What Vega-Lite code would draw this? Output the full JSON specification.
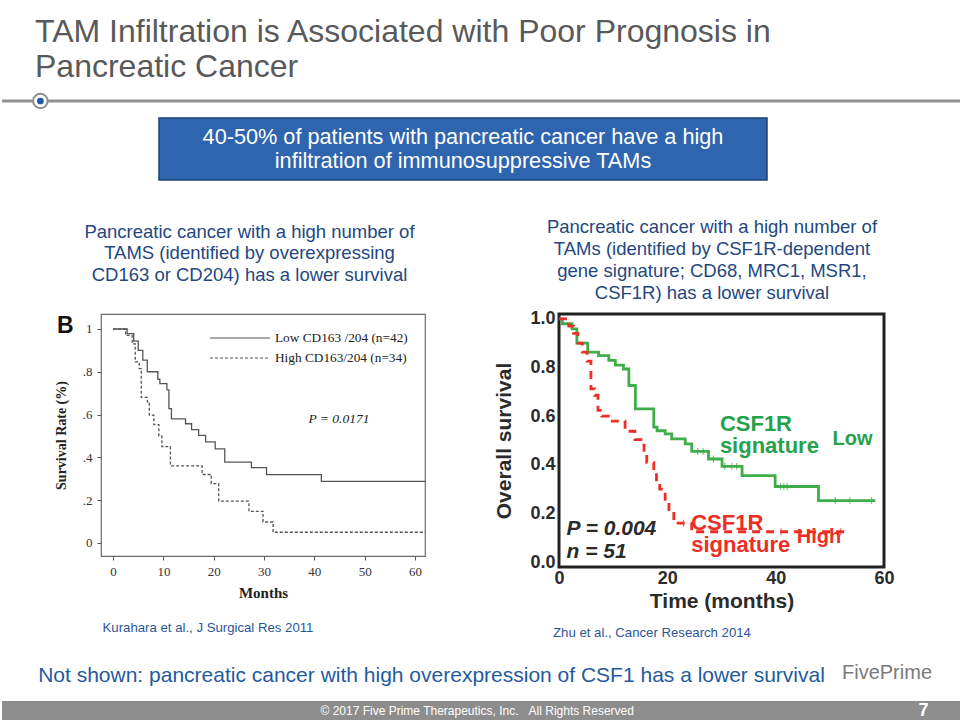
{
  "$schema": "https://vega.github.io/schema/vega-lite/v6.json",
  "background": "white",
  "padding": {"left": 0, "right": 0, "top": 15, "bottom": 0},
  "title": {
    "text": ["TAM Infiltration is Associated with Poor Prognosis in", "Pancreatic Cancer"],
    "anchor": "start", "frame": "group", "dx": 33, "offset": 6,
    "font": "Liberation Sans", "fontSize": 32, "fontWeight": "normal", "color": "#595959", "lineHeight": 35
  },
  "config": {"view": {"stroke": null}, "font": "Liberation Sans", "axis": {"grid": false}},
  "spacing": 0,
  "resolve": {"scale": {"color": "independent", "strokeDash": "independent"}},
  "datasets": {
    "kurahara": [
      {"group": "Low CD163 /204 (n=42)", "month": 0, "surv": 1.0},
      {"group": "Low CD163 /204 (n=42)", "month": 2.8, "surv": 0.978},
      {"group": "Low CD163 /204 (n=42)", "month": 4.1, "surv": 0.943},
      {"group": "Low CD163 /204 (n=42)", "month": 5.0, "surv": 0.90},
      {"group": "Low CD163 /204 (n=42)", "month": 5.9, "surv": 0.854},
      {"group": "Low CD163 /204 (n=42)", "month": 6.8, "surv": 0.80},
      {"group": "Low CD163 /204 (n=42)", "month": 8.9, "surv": 0.765},
      {"group": "Low CD163 /204 (n=42)", "month": 9.3, "surv": 0.745},
      {"group": "Low CD163 /204 (n=42)", "month": 10.7, "surv": 0.715},
      {"group": "Low CD163 /204 (n=42)", "month": 11.1, "surv": 0.628},
      {"group": "Low CD163 /204 (n=42)", "month": 11.6, "surv": 0.58},
      {"group": "Low CD163 /204 (n=42)", "month": 14.4, "surv": 0.557},
      {"group": "Low CD163 /204 (n=42)", "month": 15.6, "surv": 0.53},
      {"group": "Low CD163 /204 (n=42)", "month": 17.0, "surv": 0.503},
      {"group": "Low CD163 /204 (n=42)", "month": 18.4, "surv": 0.472},
      {"group": "Low CD163 /204 (n=42)", "month": 20.3, "surv": 0.44},
      {"group": "Low CD163 /204 (n=42)", "month": 22.2, "surv": 0.378},
      {"group": "Low CD163 /204 (n=42)", "month": 27.5, "surv": 0.352},
      {"group": "Low CD163 /204 (n=42)", "month": 30.5, "surv": 0.319},
      {"group": "Low CD163 /204 (n=42)", "month": 41.4, "surv": 0.288},
      {"group": "Low CD163 /204 (n=42)", "month": 62, "surv": 0.288},
      {"group": "High CD163/204 (n=34)", "month": 0, "surv": 1.0},
      {"group": "High CD163/204 (n=34)", "month": 2.5, "surv": 0.97},
      {"group": "High CD163/204 (n=34)", "month": 3.8, "surv": 0.93},
      {"group": "High CD163/204 (n=34)", "month": 4.4, "surv": 0.846},
      {"group": "High CD163/204 (n=34)", "month": 5.2, "surv": 0.815},
      {"group": "High CD163/204 (n=34)", "month": 5.6, "surv": 0.68},
      {"group": "High CD163/204 (n=34)", "month": 6.8, "surv": 0.66},
      {"group": "High CD163/204 (n=34)", "month": 7.2, "surv": 0.597},
      {"group": "High CD163/204 (n=34)", "month": 8.1, "surv": 0.553},
      {"group": "High CD163/204 (n=34)", "month": 9.1, "surv": 0.50},
      {"group": "High CD163/204 (n=34)", "month": 9.7, "surv": 0.45},
      {"group": "High CD163/204 (n=34)", "month": 11.4, "surv": 0.36},
      {"group": "High CD163/204 (n=34)", "month": 17.7, "surv": 0.32},
      {"group": "High CD163/204 (n=34)", "month": 19.5, "surv": 0.277},
      {"group": "High CD163/204 (n=34)", "month": 21.0, "surv": 0.195},
      {"group": "High CD163/204 (n=34)", "month": 27.0, "surv": 0.148},
      {"group": "High CD163/204 (n=34)", "month": 29.8, "surv": 0.098},
      {"group": "High CD163/204 (n=34)", "month": 31.8, "surv": 0.05},
      {"group": "High CD163/204 (n=34)", "month": 62, "surv": 0.05}
    ],
    "zhu": [
      {"group": "Low", "month": 0, "surv": 1.0},
      {"group": "Low", "month": 0.6, "surv": 0.98},
      {"group": "Low", "month": 2.4, "surv": 0.959},
      {"group": "Low", "month": 3.3, "surv": 0.90},
      {"group": "Low", "month": 5.3, "surv": 0.863},
      {"group": "Low", "month": 7.3, "surv": 0.849},
      {"group": "Low", "month": 9.2, "surv": 0.829},
      {"group": "Low", "month": 10.4, "surv": 0.81},
      {"group": "Low", "month": 11.9, "surv": 0.794},
      {"group": "Low", "month": 12.9, "surv": 0.726},
      {"group": "Low", "month": 14.1, "surv": 0.63},
      {"group": "Low", "month": 17.5, "surv": 0.555},
      {"group": "Low", "month": 18.1, "surv": 0.54},
      {"group": "Low", "month": 19.6, "surv": 0.527},
      {"group": "Low", "month": 20.8, "surv": 0.507},
      {"group": "Low", "month": 23.3, "surv": 0.486},
      {"group": "Low", "month": 24.5, "surv": 0.455},
      {"group": "Low", "month": 27.6, "surv": 0.424},
      {"group": "Low", "month": 30.1, "surv": 0.394},
      {"group": "Low", "month": 33.8, "surv": 0.356},
      {"group": "Low", "month": 39.9, "surv": 0.311},
      {"group": "Low", "month": 47.9, "surv": 0.253},
      {"group": "Low", "month": 58.4, "surv": 0.253},
      {"group": "High", "month": 0, "surv": 1.0},
      {"group": "High", "month": 1.8, "surv": 0.97},
      {"group": "High", "month": 2.7, "surv": 0.94},
      {"group": "High", "month": 3.5, "surv": 0.90},
      {"group": "High", "month": 4.3, "surv": 0.863},
      {"group": "High", "month": 5.2, "surv": 0.826},
      {"group": "High", "month": 5.9, "surv": 0.712},
      {"group": "High", "month": 6.6, "surv": 0.686},
      {"group": "High", "month": 7.2, "surv": 0.624},
      {"group": "High", "month": 7.9, "surv": 0.60},
      {"group": "High", "month": 9.4, "surv": 0.58},
      {"group": "High", "month": 12.2, "surv": 0.538},
      {"group": "High", "month": 14.0, "surv": 0.504},
      {"group": "High", "month": 15.7, "surv": 0.45},
      {"group": "High", "month": 16.2, "surv": 0.41},
      {"group": "High", "month": 17.5, "surv": 0.37},
      {"group": "High", "month": 18.0, "surv": 0.33},
      {"group": "High", "month": 18.6, "surv": 0.30},
      {"group": "High", "month": 19.6, "surv": 0.25},
      {"group": "High", "month": 20.3, "surv": 0.21},
      {"group": "High", "month": 21.2, "surv": 0.16},
      {"group": "High", "month": 24.5, "surv": 0.125},
      {"group": "High", "month": 53.5, "surv": 0.125}
    ],
    "censor": [
      {"group": "Low", "month": 25.6, "surv": 0.455},
      {"group": "Low", "month": 26.6, "surv": 0.455},
      {"group": "Low", "month": 28.5, "surv": 0.424},
      {"group": "Low", "month": 30.6, "surv": 0.394},
      {"group": "Low", "month": 31.9, "surv": 0.394},
      {"group": "Low", "month": 32.8, "surv": 0.394},
      {"group": "Low", "month": 40.9, "surv": 0.311},
      {"group": "Low", "month": 41.5, "surv": 0.311},
      {"group": "Low", "month": 42.1, "surv": 0.311},
      {"group": "Low", "month": 51.0, "surv": 0.253},
      {"group": "Low", "month": 53.7, "surv": 0.253},
      {"group": "Low", "month": 57.7, "surv": 0.253},
      {"group": "High", "month": 23.0, "surv": 0.16},
      {"group": "High", "month": 41.0, "surv": 0.125},
      {"group": "High", "month": 52.0, "surv": 0.125}
    ]
  },
  "vconcat": [
    {
      "width": 960, "height": 16,
      "data": {"values": [{"item": "header"}]},
      "layer": [
        {"mark": {"type": "rule", "color": "#8f8f8f", "strokeWidth": 3},
         "encoding": {"y": {"datum": 0.5, "type": "quantitative", "scale": {"domain": [0, 1]}, "axis": null}}},
        {"mark": {"type": "point", "filled": true, "fill": "white", "stroke": "#8f8f8f", "strokeWidth": 2, "size": 210, "opacity": 1},
         "encoding": {"x": {"datum": 0.04, "type": "quantitative", "scale": {"domain": [0, 1]}, "axis": null},
                      "y": {"datum": 0.5, "type": "quantitative"}}},
        {"mark": {"type": "point", "filled": true, "color": "#1f5aa6", "size": 45, "opacity": 1},
         "encoding": {"x": {"datum": 0.04, "type": "quantitative"}, "y": {"datum": 0.5, "type": "quantitative"}}}
      ]
    },
    {"width": 960, "height": 4, "data": {"values": []}, "mark": "point"},
    {
      "hconcat": [
        {"width": 157, "height": 62, "data": {"values": []}, "mark": "point"},
        {
          "width": 608, "height": 62,
          "view": {"fill": "#2f64ae", "stroke": "#1e3f70", "strokeWidth": 1.5},
          "data": {"values": [{"t": "40-50% of patients with pancreatic cancer have a high\ninfiltration of immunosuppressive TAMs"}]},
          "mark": {"type": "text", "color": "white", "fontSize": 21.7, "lineHeight": 24, "lineBreak": "\n", "dy": -12},
          "encoding": {"text": {"field": "t", "type": "nominal"}}
        }
      ],
      "spacing": 0, "bounds": "flush"
    },
    {"width": 960, "height": 31, "data": {"values": []}, "mark": "point"},
    {
      "hconcat": [
        {
          "width": 495, "height": 83,
          "data": {"values": [{"t": "Pancreatic cancer with a high number of\nTAMS (identified by overexpressing\nCD163 or CD204) has a lower survival"}]},
          "mark": {"type": "text", "color": "#24477f", "fontSize": 18.5, "lineHeight": 21.7, "lineBreak": "\n", "dy": -21.7},
          "encoding": {"text": {"field": "t", "type": "nominal"}}
        },
        {
          "width": 430, "height": 96,
          "data": {"values": [{"t": "Pancreatic cancer with a high number of\nTAMs (identified by CSF1R-dependent\ngene signature; CD68, MRC1, MSR1,\nCSF1R) has a lower survival"}]},
          "mark": {"type": "text", "color": "#24477f", "fontSize": 18.5, "lineHeight": 22, "lineBreak": "\n", "dy": -33},
          "encoding": {"text": {"field": "t", "type": "nominal"}}
        }
      ],
      "spacing": 0, "bounds": "flush"
    },
    {
      "hconcat": [
        {"width": 99, "height": 1, "data": {"values": []}, "mark": "point"},
        {
          "width": 324, "height": 242,
          "view": {"stroke": "#6b6b6b", "strokeWidth": 1.2},
          "layer": [
            {
              "data": {"name": "kurahara"},
              "mark": {"type": "line", "interpolate": "step-after", "strokeWidth": 1.3, "color": "#555555"},
              "encoding": {
                "x": {"field": "month", "type": "quantitative",
                      "scale": {"domain": [-2.4, 62], "nice": false, "zero": false},
                      "axis": {"title": "Months",
                               "values": [0, 2.5, 5, 7.5, 10, 12.5, 15, 17.5, 20, 22.5, 25, 27.5, 30, 32.5, 35, 37.5, 40, 42.5, 45, 47.5, 50, 52.5, 55, 57.5, 60],
                               "labelExpr": "datum.value % 10 === 0 ? datum.label : ''",
                               "domain": false, "tickSize": 4, "tickColor": "#555555",
                               "labelFont": "Liberation Serif", "labelFontSize": 13, "labelColor": "#333333", "labelPadding": 5.5,
                               "titleFont": "Liberation Serif", "titleFontWeight": "bold", "titleFontSize": 15, "titleColor": "#222222", "titlePadding": 7}},
                "y": {"field": "surv", "type": "quantitative",
                      "scale": {"domain": [-0.061, 1.07], "nice": false, "zero": false},
                      "axis": {"title": "Survival Rate (%)",
                               "values": [0, 0.1, 0.2, 0.3, 0.4, 0.5, 0.6, 0.7, 0.8, 0.9, 1],
                               "labelExpr": "datum.value === 1 ? '1' : datum.value === 0 ? '0' : (round(datum.value * 10) % 2 === 0 ? replace(format(datum.value, '.1f'), '0.', '.') : '')",
                               "domain": false, "tickSize": 4, "tickColor": "#555555",
                               "labelFont": "Liberation Serif", "labelFontSize": 13, "labelColor": "#333333", "labelPadding": 5,
                               "titleFont": "Liberation Serif", "titleFontWeight": "bold", "titleFontSize": 14, "titleColor": "#222222", "titlePadding": 14}},
                "strokeDash": {"field": "group", "type": "nominal",
                               "scale": {"domain": ["Low CD163 /204 (n=42)", "High CD163/204 (n=34)"], "range": [[1, 0], [3, 2]]},
                               "legend": {"title": null, "orient": "top-right", "offset": 13, "padding": 4,
                                          "symbolType": "stroke", "symbolSize": 3600, "symbolStrokeWidth": 1.2, "symbolStrokeColor": "#555555",
                                          "clipHeight": 14, "rowPadding": 6,
                                          "labelFont": "Liberation Serif", "labelFontSize": 13.3, "labelColor": "#222222", "labelOffset": 4, "labelLimit": 300}}
              }
            },
            {
              "data": {"values": [{"t": "P = 0.0171"}]},
              "mark": {"type": "text", "font": "Liberation Serif", "fontStyle": "italic", "fontSize": 13.5, "color": "#222222"},
              "encoding": {"x": {"datum": 44.9}, "y": {"datum": 0.58}, "text": {"field": "t", "type": "nominal"}}
            },
            {
              "data": {"values": [{"t": "B"}]},
              "mark": {"type": "text", "font": "Liberation Sans", "fontWeight": "bold", "fontSize": 23, "color": "#111111"},
              "encoding": {"x": {"datum": -9.5}, "y": {"datum": 1.014}, "text": {"field": "t", "type": "nominal"}}
            }
          ]
        },
        {"width": 134, "height": 1, "data": {"values": []}, "mark": "point"},
        {
          "width": 325, "height": 253,
          "view": {"stroke": "#222222", "strokeWidth": 3},
          "layer": [
            {
              "data": {"name": "zhu"},
              "mark": {"type": "line", "interpolate": "step-after", "strokeWidth": 2.8},
              "encoding": {
                "x": {"field": "month", "type": "quantitative",
                      "scale": {"domain": [0, 60], "nice": false, "zero": false},
                      "axis": {"title": "Time (months)", "values": [0, 20, 40, 60], "domain": false, "ticks": false,
                               "labelFont": "Liberation Sans", "labelFontSize": 18, "labelFontWeight": "bold", "labelColor": "#2b2b2b",
                               "labelPadding": 2, "labelFlush": false,
                               "titleFont": "Liberation Sans", "titleFontSize": 21, "titleFontWeight": "bold", "titleColor": "#2b2b2b", "titlePadding": 3}},
                "y": {"field": "surv", "type": "quantitative",
                      "scale": {"domain": [-0.02, 1.02], "nice": false, "zero": false},
                      "axis": {"title": "Overall survival", "values": [0, 0.2, 0.4, 0.6, 0.8, 1], "format": ".1f", "domain": false, "ticks": false,
                               "labelFont": "Liberation Sans", "labelFontSize": 18, "labelFontWeight": "bold", "labelColor": "#2b2b2b",
                               "labelPadding": 4, "labelFlush": false,
                               "titleFont": "Liberation Sans", "titleFontSize": 21, "titleFontWeight": "bold", "titleColor": "#2b2b2b", "titlePadding": 15}},
                "color": {"field": "group", "type": "nominal", "scale": {"domain": ["Low", "High"], "range": ["#3fae49", "#ec2f24"]}, "legend": null},
                "strokeDash": {"field": "group", "type": "nominal", "scale": {"domain": ["Low", "High"], "range": [[1, 0], [8, 6]]}, "legend": null}
              }
            },
            {
              "data": {"name": "censor"},
              "mark": {"type": "tick", "orient": "vertical", "size": 7, "thickness": 1.2},
              "encoding": {
                "x": {"field": "month", "type": "quantitative"},
                "y": {"field": "surv", "type": "quantitative"},
                "color": {"field": "group", "type": "nominal", "legend": null}
              }
            },
            {
              "data": {"values": [{"t": "CSF1R\nsignature"}]},
              "mark": {"type": "text", "align": "left", "fontWeight": "bold", "fontSize": 22, "lineHeight": 22, "lineBreak": "\n", "color": "#27a24a"},
              "encoding": {"x": {"datum": 29.7}, "y": {"datum": 0.567}, "text": {"field": "t", "type": "nominal"}}
            },
            {
              "data": {"values": [{"t": "Low"}]},
              "mark": {"type": "text", "align": "left", "fontWeight": "bold", "fontSize": 20, "color": "#27a24a"},
              "encoding": {"x": {"datum": 50.5}, "y": {"datum": 0.505}, "text": {"field": "t", "type": "nominal"}}
            },
            {
              "data": {"values": [{"t": "CSF1R\nsignature"}]},
              "mark": {"type": "text", "align": "left", "fontWeight": "bold", "fontSize": 22, "lineHeight": 22, "lineBreak": "\n", "color": "#ec2f24"},
              "encoding": {"x": {"datum": 24.4}, "y": {"datum": 0.16}, "text": {"field": "t", "type": "nominal"}}
            },
            {
              "data": {"values": [{"t": "High"}]},
              "mark": {"type": "text", "align": "left", "fontWeight": "bold", "fontSize": 20, "color": "#ec2f24"},
              "encoding": {"x": {"datum": 43.9}, "y": {"datum": 0.103}, "text": {"field": "t", "type": "nominal"}}
            },
            {
              "data": {"values": [{"t": "P = 0.004\nn = 51"}]},
              "mark": {"type": "text", "align": "left", "fontWeight": "bold", "fontStyle": "italic", "fontSize": 21, "lineHeight": 23, "lineBreak": "\n", "color": "#2b2b2b"},
              "encoding": {"x": {"datum": 1.4}, "y": {"datum": 0.136}, "text": {"field": "t", "type": "nominal"}}
            }
          ]
        }
      ],
      "spacing": 0, "bounds": "flush",
      "resolve": {"scale": {"color": "independent", "strokeDash": "independent"}}
    },
    {"width": 960, "height": 2, "data": {"values": []}, "mark": "point"},
    {
      "hconcat": [
        {"width": 86, "height": 1, "data": {"values": []}, "mark": "point"},
        {
          "width": 240, "height": 26,
          "data": {"values": [{"t": "Kurahara et al., J Surgical Res 2011"}]},
          "mark": {"type": "text", "color": "#2c5597", "fontSize": 13.2},
          "encoding": {"text": {"field": "t", "type": "nominal"}}
        },
        {"width": 204, "height": 1, "data": {"values": []}, "mark": "point"},
        {
          "width": 240, "height": 36,
          "data": {"values": [{"t": "Zhu et al., Cancer Research 2014"}]},
          "mark": {"type": "text", "color": "#2c5597", "fontSize": 13.2},
          "encoding": {"text": {"field": "t", "type": "nominal"}}
        }
      ],
      "spacing": 0, "bounds": "flush"
    },
    {
      "hconcat": [
        {
          "width": 859, "height": 50,
          "data": {"values": [{"t": "Not shown: pancreatic cancer with high overexpression of CSF1 has a lower survival"}]},
          "mark": {"type": "text", "color": "#1f5aa0", "fontSize": 21},
          "encoding": {"text": {"field": "t", "type": "nominal"}}
        },
        {
          "width": 52, "height": 44,
          "data": {"values": [{"t": "FivePrime"}]},
          "mark": {"type": "text", "color": "#7a7a7a", "fontSize": 20},
          "encoding": {"text": {"field": "t", "type": "nominal"}}
        }
      ],
      "spacing": 0, "bounds": "flush"
    },
    {
      "width": 960, "height": 19,
      "view": {"fill": "#8d8d8d"},
      "layer": [
        {
          "data": {"values": [{"t": "© 2017 Five Prime Therapeutics, Inc.\u00a0\u00a0\u00a0All Rights Reserved"}]},
          "mark": {"type": "text", "color": "white", "fontSize": 12},
          "encoding": {"x": {"datum": 0.495, "type": "quantitative", "scale": {"domain": [0, 1]}, "axis": null}, "text": {"field": "t", "type": "nominal"}}
        },
        {
          "data": {"values": [{"t": "7"}]},
          "mark": {"type": "text", "color": "white", "fontSize": 18, "fontWeight": "bold"},
          "encoding": {"x": {"datum": 0.96, "type": "quantitative"}, "text": {"field": "t", "type": "nominal"}}
        }
      ]
    }
  ]
}
